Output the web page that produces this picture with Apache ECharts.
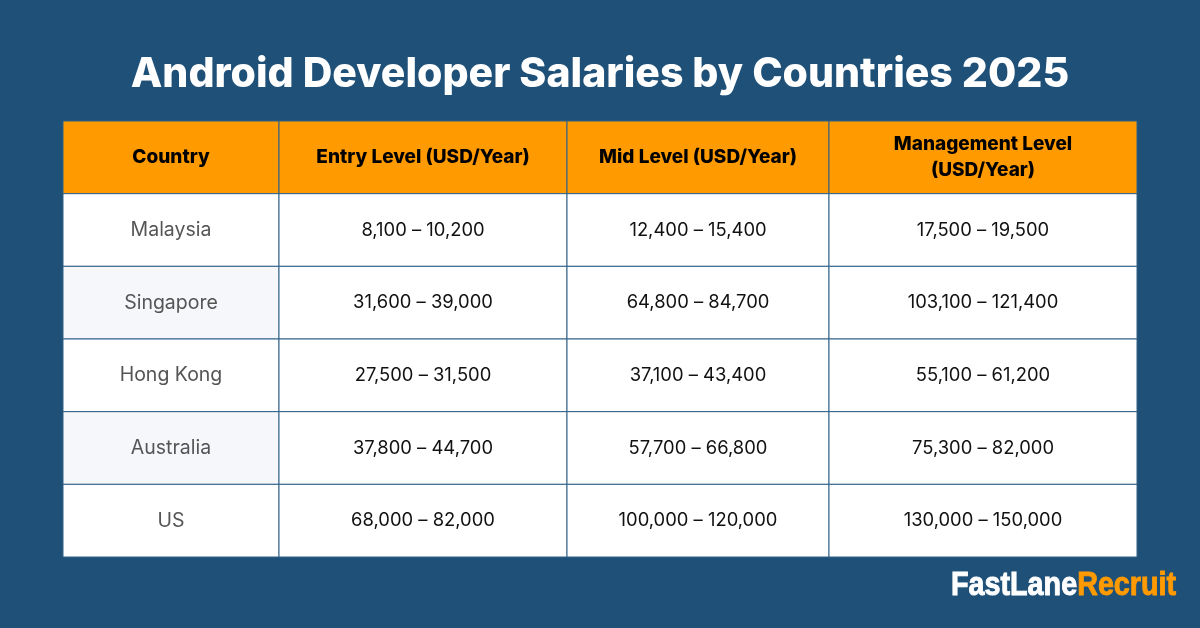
<!DOCTYPE html>
<html>
<head>
<meta charset="utf-8">
<title>Android Developer Salaries by Countries 2025</title>
<script src="https://cdn.jsdelivr.net/npm/echarts@6/dist/echarts.min.js"></script>
<style>
html,body{margin:0;padding:0;background:#1f5078}
#main{width:1200px;height:628px}
</style>
</head>
<body>
<div id="main"></div>
<script>
var headers = ['Country', 'Entry Level (USD/Year)', 'Mid Level (USD/Year)', 'Management Level\n(USD/Year)'];
var countries = ['Malaysia', 'Singapore', 'Hong Kong', 'Australia', 'US'];
var entryLevel = ['8,100 – 10,200', '31,600 – 39,000', '27,500 – 31,500', '37,800 – 44,700', '68,000 – 82,000'];
var midLevel = ['12,400 – 15,400', '64,800 – 84,700', '37,100 – 43,400', '57,700 – 66,800', '100,000 – 120,000'];
var managementLevel = ['17,500 – 19,500', '103,100 – 121,400', '55,100 – 61,200', '75,300 – 82,000', '130,000 – 150,000'];

// column edges, in table width units
var colEdges = [0, 216, 504, 766, 1074];
var FONT = 'Inter, "Noto Sans", sans-serif';
var rowNames = ['header'].concat(countries);

// [col, row, text]
var cells = [];
headers.forEach(function (h, c) { cells.push([c, 0, h]); });
[countries, entryLevel, midLevel, managementLevel].forEach(function (list, c) {
	list.forEach(function (txt, r) { cells.push([c, r + 1, txt]); });
});

function cellFill(col, row) {
	if (row == 0) return '#ff9a00';
	// zebra only on first column
	if (col == 0 && row % 2 == 0) return '#f5f7fa';
	return '#ffffff';
}

function textStyleFor(col, row, txt, cx, cy) {
	var st = { x: cx, y: cy, text: txt, align: 'center', verticalAlign: 'middle', fontFamily: FONT };
	if (row == 0) {
		st.fontSize = 19; st.fontWeight = 800; st.fill = '#000000'; st.lineHeight = 26;
	} else if (col == 0) {
		st.fontSize = 19.5; st.fontWeight = 400; st.fill = '#555555';
	} else {
		st.fontSize = 18.4; st.fontWeight = 400; st.fill = '#111111';
	}
	return st;
}

function renderCell(params, api) {
	var col = api.value(0), row = api.value(1), txt = cells[params.dataIndex][2];
	var left = api.coord([colEdges[col], row]);
	var right = api.coord([colEdges[col + 1], row]);
	var h = api.size([0, 1])[1];
	var top = left[1] - h / 2;
	return {
		type: 'group',
		children: [{
			type: 'rect',
			shape: { x: left[0], y: top, width: right[0] - left[0], height: h },
			style: { fill: cellFill(col, row), stroke: '#2f6088', lineWidth: 1 }
		}, {
			type: 'text',
			style: textStyleFor(col, row, txt, (left[0] + right[0]) / 2, left[1])
		}]
	};
}

var myChart = echarts.init(document.getElementById('main'), null, { renderer: 'canvas' });
var option = {
	backgroundColor: '#1f5078',
	animation: false,
	title: {
		text: 'Android Developer Salaries by Countries 2025',
		left: 'center',
		top: 49,
		textStyle: { color: '#ffffff', fontFamily: FONT, fontSize: 41, fontWeight: 800 }
	},
	grid: { left: 63, top: 121, width: 1074, height: 436 },
	xAxis: { type: 'value', min: 0, max: 1074, show: false },
	yAxis: { type: 'category', data: rowNames, inverse: true, show: false },
	series: [{
		type: 'custom',
		coordinateSystem: 'cartesian2d',
		encode: { x: 0, y: 1 },
		data: cells.map(function (c) { return [c[0], c[1]]; }),
		renderItem: renderCell
	}],
	graphic: [{
		type: 'text',
		x: 951,
		y: 569,
		scaleX: 0.845,
		style: {
			text: '{a|FastLane}{b|Recruit}',
			rich: {
				a: { fill: '#ffffff', stroke: '#ffffff', lineWidth: 1, fontFamily: '"Liberation Sans"', fontWeight: 700, fontSize: 34 },
				b: { fill: '#ff9a00', stroke: '#ff9a00', lineWidth: 1, fontFamily: '"Liberation Sans"', fontWeight: 700, fontSize: 34 }
			}
		}
	}]
};
myChart.setOption(option);
</script>
</body>
</html>
